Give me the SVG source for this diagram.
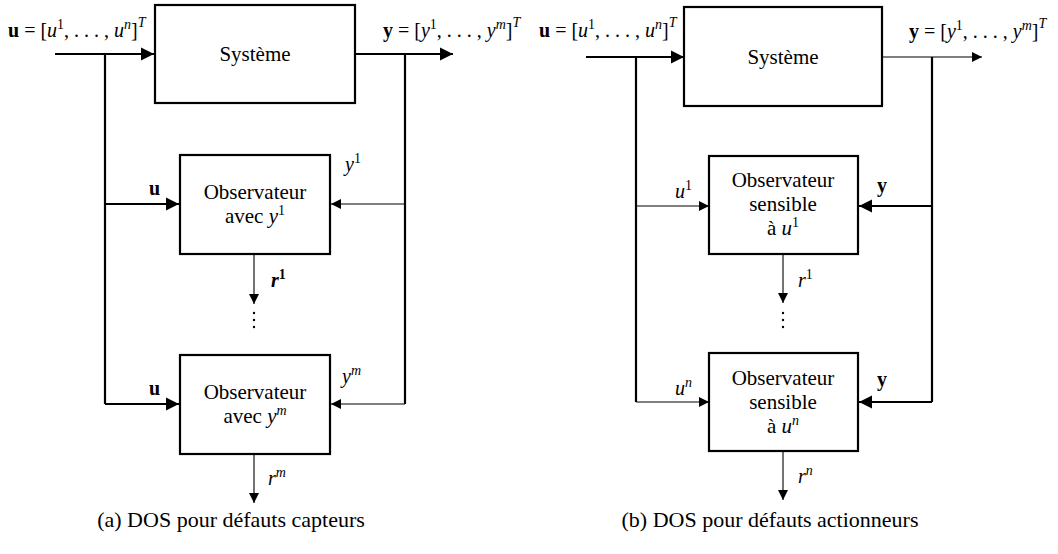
<svg xmlns="http://www.w3.org/2000/svg" width="1058" height="554" viewBox="0 0 1058 554">
<defs>
<style>
.box{fill:#fff;stroke:#000;stroke-width:2.2}
.tk{fill:none;stroke:#000;stroke-width:2.2}
.tn{fill:none;stroke:#000;stroke-width:1.1}
text{font-family:"Liberation Serif","DejaVu Serif",serif;fill:#000}
.t{font-size:21px;text-anchor:middle}
.m{font-size:20px}
.i{font-style:italic}
.b{font-weight:bold}
.sup{font-size:14px}
.cap{font-size:22px;text-anchor:middle}
</style>
<marker id="ak" viewBox="0 0 10 10" refX="10" refY="5" markerWidth="13" markerHeight="14" markerUnits="userSpaceOnUse" orient="auto"><path d="M0,0 L10,5 L0,10 z" fill="#000"/></marker>
<marker id="an" viewBox="0 0 10 10" refX="10" refY="5" markerWidth="10" markerHeight="10" markerUnits="userSpaceOnUse" orient="auto"><path d="M0,0 L10,5 L0,10 z" fill="#000"/></marker>
</defs>
<rect width="1058" height="554" fill="#fff"/>

<g id="connectors">
<path class="tk" d="M55,54 H154" marker-end="url(#ak)"/>
<path class="tk" d="M105,54 V404"/>
<path class="tk" d="M105,204 H179" marker-end="url(#ak)"/>
<path class="tk" d="M105,404 H179" marker-end="url(#ak)"/>
<path class="tk" d="M355,54 H453" marker-end="url(#ak)"/>
<path class="tk" d="M405,54 V404"/>
<path class="tn" d="M405,204 H331" marker-end="url(#an)"/>
<path class="tn" d="M405,404 H331" marker-end="url(#an)"/>
<path class="tn" d="M254,254 V304" marker-end="url(#an)"/>
<path class="tn" d="M254,454 V503" marker-end="url(#an)"/>
<path class="tk" d="M586,57 H684" marker-end="url(#ak)"/>
<path class="tk" d="M636,57 V402"/>
<path class="tn" d="M636,206 H709" marker-end="url(#an)"/>
<path class="tn" d="M636,402 H709" marker-end="url(#an)"/>
<path class="tn" d="M882,57 H982" marker-end="url(#an)"/>
<path class="tk" d="M932,57 V402"/>
<path class="tk" d="M932,206 H859" marker-end="url(#ak)"/>
<path class="tk" d="M932,402 H859" marker-end="url(#ak)"/>
<path class="tn" d="M783,254 V303" marker-end="url(#an)"/>
<path class="tn" d="M783,451 V500" marker-end="url(#an)"/>
</g>

<g id="dots">
<circle cx="254" cy="313" r="1.2"/><circle cx="254" cy="320" r="1.2"/><circle cx="254" cy="327" r="1.2"/>
<circle cx="783" cy="313" r="1.2"/><circle cx="783" cy="320" r="1.2"/><circle cx="783" cy="327" r="1.2"/>
</g>

<g id="sys-a">
<rect class="box" x="155" y="5" width="200" height="98"/>
<text class="t" x="255" y="61">Système</text>
</g>
<g id="obs-a1">
<rect class="box" x="180" y="155" width="150" height="99"/>
<text class="t" x="255" y="199">Observateur</text>
<text class="t" x="255" y="223">avec <tspan class="i">y</tspan><tspan class="sup" dy="-8">1</tspan></text>
</g>
<g id="obs-a2">
<rect class="box" x="180" y="355" width="150" height="99"/>
<text class="t" x="255" y="399">Observateur</text>
<text class="t" x="255" y="423">avec <tspan class="i">y</tspan><tspan class="sup i" dy="-8">m</tspan></text>
</g>

<g id="sys-b">
<rect class="box" x="684" y="7" width="198" height="99"/>
<text class="t" x="783" y="64">Système</text>
</g>
<g id="obs-b1">
<rect class="box" x="709" y="156" width="149" height="98"/>
<text class="t" x="783" y="187">Observateur</text>
<text class="t" x="783" y="211">sensible</text>
<text class="t" x="783" y="235">à <tspan class="i">u</tspan><tspan class="sup" dy="-8">1</tspan></text>
</g>
<g id="obs-b2">
<rect class="box" x="709" y="353" width="149" height="98"/>
<text class="t" x="783" y="385">Observateur</text>
<text class="t" x="783" y="409">sensible</text>
<text class="t" x="783" y="433">à <tspan class="i">u</tspan><tspan class="sup i" dy="-8">n</tspan></text>
</g>

<g id="labels">
<text class="m" x="8" y="37"><tspan class="b">u</tspan> = [<tspan class="i">u</tspan><tspan class="sup" dy="-8">1</tspan><tspan dy="8">, . . . , </tspan><tspan class="i">u</tspan><tspan class="sup i" dy="-8">n</tspan><tspan dy="8">]</tspan><tspan class="sup i" dy="-10">T</tspan></text>
<text class="m" x="383" y="37"><tspan class="b">y</tspan> = [<tspan class="i">y</tspan><tspan class="sup" dy="-8">1</tspan><tspan dy="8">, . . . , </tspan><tspan class="i">y</tspan><tspan class="sup i" dy="-8">m</tspan><tspan dy="8">]</tspan><tspan class="sup i" dy="-10">T</tspan></text>
<text class="m b" x="149" y="195">u</text>
<text class="m b" x="149" y="395">u</text>
<text class="m" x="345" y="171"><tspan class="i">y</tspan><tspan class="sup" dy="-8">1</tspan></text>
<text class="m" x="342" y="383"><tspan class="i">y</tspan><tspan class="sup i" dy="-8">m</tspan></text>
<text class="m b" x="271" y="287"><tspan class="i">r</tspan><tspan class="sup" dy="-8">1</tspan></text>
<text class="m" x="268" y="485"><tspan class="i">r</tspan><tspan class="sup i" dy="-8">m</tspan></text>
<text class="m" x="539" y="37"><tspan class="b">u</tspan> = [<tspan class="i">u</tspan><tspan class="sup" dy="-8">1</tspan><tspan dy="8">, . . . , </tspan><tspan class="i">u</tspan><tspan class="sup i" dy="-8">n</tspan><tspan dy="8">]</tspan><tspan class="sup i" dy="-10">T</tspan></text>
<text class="m" x="909" y="38"><tspan class="b">y</tspan> = [<tspan class="i">y</tspan><tspan class="sup" dy="-8">1</tspan><tspan dy="8">, . . . , </tspan><tspan class="i">y</tspan><tspan class="sup i" dy="-8">m</tspan><tspan dy="8">]</tspan><tspan class="sup i" dy="-10">T</tspan></text>
<text class="m" x="675" y="198"><tspan class="i">u</tspan><tspan class="sup" dy="-8">1</tspan></text>
<text class="m" x="675" y="395"><tspan class="i">u</tspan><tspan class="sup i" dy="-8">n</tspan></text>
<text class="m b" x="877" y="192">y</text>
<text class="m b" x="877" y="386">y</text>
<text class="m" x="798" y="287"><tspan class="i">r</tspan><tspan class="sup" dy="-8">1</tspan></text>
<text class="m" x="798" y="483"><tspan class="i">r</tspan><tspan class="sup i" dy="-8">n</tspan></text>
</g>

<g id="captions">
<text class="cap" x="231" y="527">(a) DOS pour défauts capteurs</text>
<text class="cap" x="770" y="527">(b) DOS pour défauts actionneurs</text>
</g>
</svg>
